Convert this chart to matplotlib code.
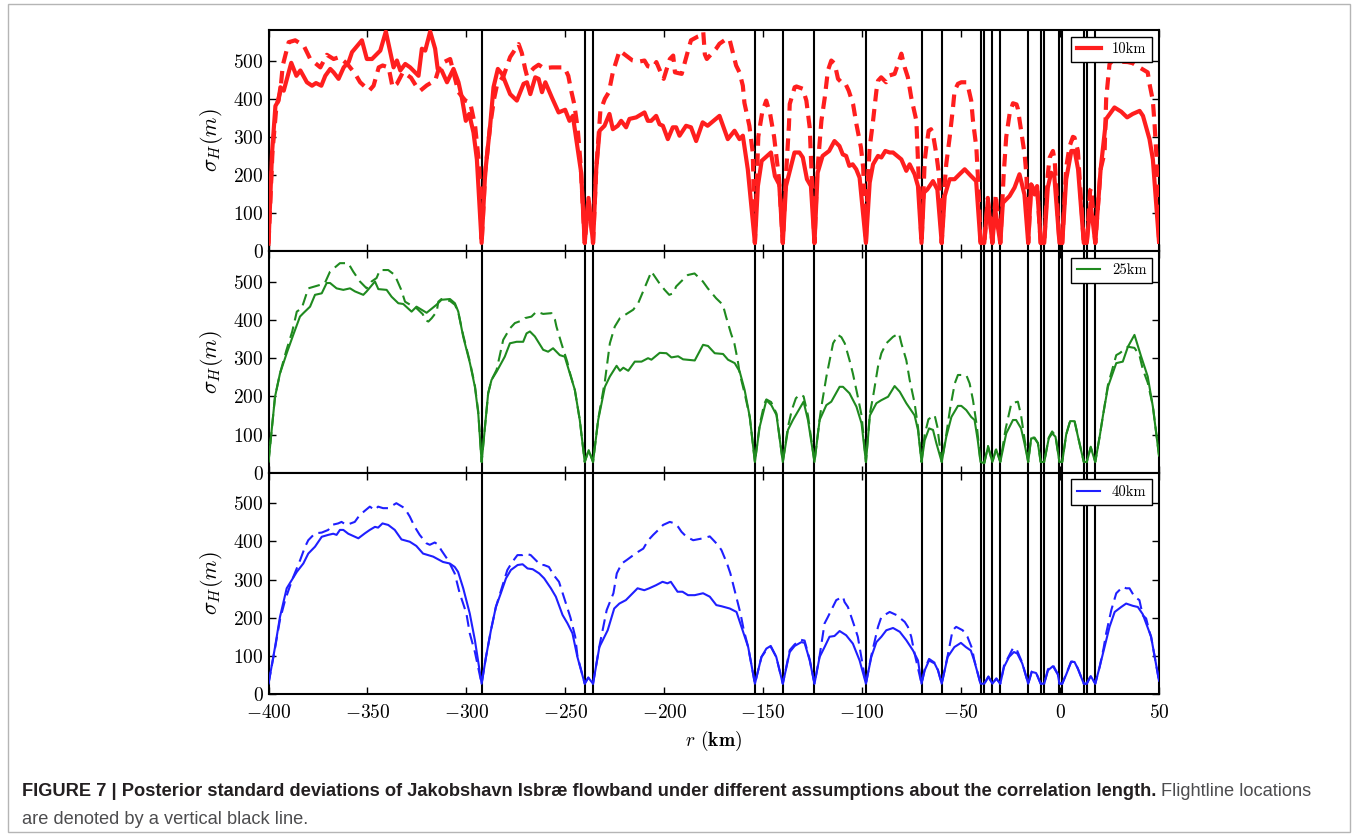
import numpy as np
import matplotlib
matplotlib.use("Agg")
import matplotlib.pyplot as plt
from matplotlib.patches import Rectangle

# flightline positions (km)
flightlines = [-292.3, -240.2, -236.0, -154.2, -140.1, -124.1, -98.1, -70.0, -59.8,
               -40.2, -38.3, -34.2, -30.2, -16.1, -9.8, -8.0, -0.3, 1.1, 12.0, 13.5, 17.8]

# (r in km, sigma_H in m)
red_solid = [
    (-400, 20), (-398.2, 259), (-396.5, 381), (-394.9, 395), (-394, 430), (-392.3, 421),
    (-388.5, 494), (-385.9, 460), (-383.9, 474), (-380.6, 443), (-378, 434), (-376, 441),
    (-373.3, 434), (-371.3, 460), (-368.8, 478), (-367.1, 469), (-364.6, 452), (-362, 482),
    (-359.5, 496), (-357.8, 522), (-352.8, 553), (-350.3, 504), (-347.7, 504), (-343.5, 526),
    (-340.7, 576), (-336.8, 482), (-335.1, 500), (-333.4, 474), (-330.9, 491), (-328.4, 482),
    (-324.2, 460), (-322.5, 531), (-320.8, 526), (-318.3, 576), (-315.8, 531), (-314.5, 478),
    (-312.5, 474), (-309.8, 443), (-306.5, 478), (-304, 443), (-302.3, 403), (-300.3, 342),
    (-298.6, 360), (-296.4, 311), (-294.7, 241), (-292.3, 22),
    (-290.5, 206), (-288, 329), (-286.3, 430), (-284.1, 478), (-282, 465), (-277.9, 412),
    (-274.5, 395), (-271.1, 439), (-269.4, 443), (-267.7, 412), (-265.2, 456), (-263.5, 452),
    (-261.8, 417), (-260.1, 443), (-256.8, 403), (-253.4, 364), (-250.1, 371), (-247.9, 342),
    (-246.2, 355), (-244.5, 294), (-242, 206), (-240.2, 22),
    (-238.3, 140), (-236, 22),
    (-234.4, 215), (-232.7, 316), (-230.2, 329), (-227.7, 360), (-226, 320), (-223.5, 329),
    (-221.8, 342), (-219.3, 325), (-217.6, 347), (-214.2, 351), (-210, 364), (-208.3, 342),
    (-206.6, 342), (-204.1, 355), (-202.4, 333), (-200.7, 329), (-198.2, 294), (-195.7, 325),
    (-194, 325), (-192.3, 303), (-189, 329), (-186.5, 325), (-183.9, 289), (-180.6, 338),
    (-178.1, 329), (-172.1, 355), (-167.9, 294), (-164.5, 316), (-162, 294), (-160.3, 303),
    (-157.8, 215), (-154.2, 22),
    (-152.7, 171), (-150.8, 237), (-146.1, 259), (-144.1, 197), (-141.9, 175), (-140.1, 22),
    (-138.5, 171), (-134.2, 259), (-131.7, 259), (-130, 246), (-127.9, 189), (-125.9, 171),
    (-124.1, 22),
    (-122.5, 206), (-120, 250), (-116.7, 263), (-114, 289), (-111.5, 276), (-109.8, 254),
    (-108.1, 250), (-106.5, 224), (-104.8, 228), (-103, 215), (-101.3, 193), (-98.1, 22),
    (-96.2, 180), (-94.5, 228), (-92, 250), (-90.3, 246), (-88.3, 263), (-86.1, 259),
    (-84.4, 259), (-80.2, 241), (-77.7, 211), (-76, 228), (-73.5, 202), (-71.8, 171), (-70, 22),
    (-68.8, 154), (-67.1, 162), (-64.2, 184), (-62, 162), (-59.8, 22),
    (-58.3, 145), (-55.8, 189), (-53.3, 189), (-50.8, 202), (-48.2, 215), (-44.9, 197),
    (-42.4, 184), (-40.2, 22), (-38.3, 22),
    (-36.5, 132), (-34.2, 22), (-32.8, 111), (-30.2, 22),
    (-28.9, 127), (-25.5, 145), (-23, 167), (-20.5, 202), (-18, 149), (-16.1, 22),
    (-14.6, 175), (-12.9, 149), (-11.6, 171), (-9.8, 22), (-8.0, 22),
    (-6.2, 167), (-4.5, 206), (-2.9, 197), (-0.3, 22), (1.1, 22),
    (3.1, 189), (5.7, 263), (7.4, 263), (9.1, 215), (12.0, 22), (13.5, 22),
    (15.4, 127), (17.8, 22),
    (20.5, 215), (23.3, 347), (27.5, 377), (30.9, 366), (33.9, 351), (36.7, 360),
    (40.2, 368), (41.9, 355), (45.2, 294), (46.9, 241), (50, 25),
]

red_dash = [
    (-400, 20), (-398, 260), (-396, 380), (-394, 420), (-392.8, 487), (-389.8, 548),
    (-386.5, 553), (-382.2, 539), (-378.9, 504), (-373.8, 482), (-370.5, 515), (-367.1, 504),
    (-364.2, 509), (-360, 490), (-356.2, 465), (-353.7, 443), (-349.1, 421), (-346.9, 434),
    (-344.3, 482), (-342.3, 487), (-339.3, 482), (-337.3, 430), (-335.1, 439), (-332, 470),
    (-328, 455), (-325, 430), (-323.3, 421), (-320, 435), (-317.4, 443), (-315.8, 447),
    (-313.2, 491), (-308.2, 504), (-304, 417), (-300.5, 395), (-298.1, 390), (-295.6, 329),
    (-293.5, 224), (-292.3, 22),
    (-290.5, 206), (-288, 329), (-286, 400), (-284.6, 434), (-281.2, 460), (-277.9, 509),
    (-273.6, 543), (-272, 520), (-270.3, 478), (-269.4, 460), (-266, 480), (-263.5, 489),
    (-261, 480), (-256.8, 482), (-250.5, 482), (-248.5, 460), (-247, 420), (-245.5, 386),
    (-243.8, 324), (-242.3, 230), (-240.2, 22),
    (-238.3, 140), (-236, 22),
    (-234.4, 215), (-232.3, 368), (-230, 400), (-228, 417), (-226, 469), (-222.6, 526),
    (-216, 500), (-213, 497), (-210, 500), (-208.3, 485), (-205.6, 482), (-204, 496),
    (-201.5, 465), (-200.3, 452), (-197.2, 504), (-195.5, 513), (-194.6, 469), (-191.2, 465),
    (-187.3, 539), (-186.5, 553), (-183, 563), (-181.4, 566), (-180.3, 575), (-179.5, 516),
    (-178.5, 504), (-173.8, 531), (-172.1, 544), (-169.6, 553), (-167.1, 557), (-165.4, 522),
    (-163.7, 487), (-162, 469), (-160.3, 434), (-159.5, 389), (-157, 329), (-155.3, 259),
    (-154.2, 22),
    (-152.5, 300), (-150.5, 365), (-148.5, 395), (-146.5, 360), (-144.5, 300), (-142, 190),
    (-140.1, 22),
    (-138.5, 200), (-137, 330), (-136.6, 386), (-134.1, 430), (-133.2, 432), (-130, 426),
    (-128.2, 395), (-126.5, 324), (-125.5, 200), (-124.1, 22),
    (-122.8, 200), (-120.6, 342), (-118.9, 403), (-117.3, 474), (-115.6, 500), (-113.9, 492),
    (-112.2, 452), (-110.5, 443), (-108.8, 443), (-106.8, 421), (-104.6, 386), (-102.9, 333),
    (-100.6, 272), (-99.5, 220), (-98.1, 22),
    (-97, 200), (-96.2, 272), (-94.5, 342), (-92.8, 421), (-92, 447), (-90.4, 456),
    (-87.9, 443), (-86.1, 461), (-83.6, 465), (-81.9, 491), (-80.2, 518), (-78.5, 482),
    (-76.9, 456), (-75.2, 403), (-72.6, 342), (-71.8, 237), (-70, 22),
    (-68.4, 237), (-67.6, 272), (-66.4, 316), (-65.2, 320), (-64.2, 307), (-62.5, 254),
    (-61.2, 202), (-59.8, 22),
    (-58.3, 176), (-57.5, 229), (-55.8, 298), (-54.1, 377), (-53.3, 421), (-51.6, 439),
    (-49.9, 443), (-47.4, 443), (-46.6, 434), (-44.9, 395), (-44.0, 342), (-42.3, 272),
    (-41.4, 184), (-40.2, 22), (-38.3, 22),
    (-36.5, 140), (-34.2, 22), (-32.5, 150), (-30.2, 22),
    (-28.5, 200), (-27.2, 300), (-25.5, 360), (-23.8, 388), (-22, 385), (-21.3, 373),
    (-20.4, 342), (-17.9, 254), (-17, 200), (-16.1, 22),
    (-14.6, 175), (-12.9, 160), (-11.6, 171), (-9.8, 22), (-8.0, 22),
    (-6.2, 200), (-5.3, 245), (-3.6, 263), (-2.7, 237), (-0.3, 22), (1.1, 22),
    (3.1, 220), (4.8, 275), (6.5, 300), (7.3, 298), (9, 264), (12, 22), (13.5, 22),
    (15.2, 160), (15.8, 165), (17.8, 22),
    (20.5, 215), (22.5, 259), (23.3, 400), (25, 491), (26.6, 500), (30, 497), (34.2, 496),
    (36.7, 493), (40.1, 482), (44.3, 469), (45.2, 439), (46.9, 395), (47.8, 330),
    (48.7, 250), (50, 30),
]

green_solid = [
    (-400, 28), (-396.7, 199), (-394.2, 260), (-390.8, 313), (-387.5, 361), (-384.1, 409),
    (-382.4, 418), (-379, 435), (-376.5, 466), (-373.1, 470), (-370.6, 497), (-368.9, 497),
    (-365.6, 483), (-362.2, 479), (-358.8, 483), (-356.3, 475), (-352.1, 466), (-350.4, 475),
    (-346.2, 501), (-344.5, 481), (-340.3, 479), (-337.8, 461), (-334.4, 444), (-331.9, 442),
    (-327.7, 422), (-325.2, 435), (-320.1, 419), (-315.1, 440), (-312.6, 453), (-308.3, 455),
    (-305.8, 444), (-304.1, 422), (-301.6, 356), (-298.2, 287), (-295.7, 225), (-294, 155),
    (-292.3, 28),
    (-289, 208), (-287.3, 243), (-284.7, 265), (-280.6, 304), (-278, 339), (-274.6, 343),
    (-271.3, 343), (-269.6, 365), (-267.9, 370), (-265.4, 357), (-261.2, 322), (-258.7, 317),
    (-256.2, 326), (-252.8, 308), (-250.3, 304), (-247.7, 260), (-245.2, 217), (-242.7, 138),
    (-240.2, 28),
    (-238.2, 59), (-236, 28),
    (-233.4, 138), (-230, 225), (-227.5, 252), (-224.1, 280), (-222.4, 267), (-220.7, 275),
    (-218.2, 267), (-214.9, 291), (-211.5, 291), (-208.2, 300), (-206.5, 296), (-202.3, 314),
    (-198.9, 313), (-196.4, 302), (-193, 305), (-190.5, 297), (-184.6, 294), (-180.4, 335),
    (-177.9, 332), (-174.5, 313), (-170.3, 311), (-167.8, 296), (-164.4, 287), (-161.9, 265),
    (-159.4, 217), (-156.8, 146), (-154.2, 28),
    (-151.8, 120), (-148.4, 190), (-145.9, 177), (-143.3, 151), (-140.1, 28),
    (-137.5, 112), (-135, 138), (-131.6, 168), (-129.6, 186), (-127.4, 138), (-124.1, 28),
    (-121.5, 138), (-118.1, 177), (-115.6, 186), (-111.4, 225), (-109.7, 225), (-106.4, 208),
    (-102.9, 173), (-100.3, 129), (-98.1, 28),
    (-96.1, 150), (-92.8, 182), (-90.3, 190), (-86.9, 199), (-83.6, 227), (-81, 212),
    (-77.7, 182), (-73.5, 150), (-71.8, 112), (-70, 28),
    (-68.4, 85), (-66.2, 116), (-64.2, 112), (-62.5, 77), (-59.8, 28),
    (-57.5, 94), (-54.9, 146), (-51.6, 175), (-49.9, 175), (-47.4, 164), (-44.9, 146),
    (-43.2, 138), (-41.6, 85), (-40.2, 28), (-38.3, 25),
    (-36.4, 68), (-34.2, 28), (-32.3, 61), (-30.2, 28),
    (-27.2, 103), (-23.8, 138), (-22.2, 138), (-19.7, 116), (-18, 77), (-16.1, 28),
    (-14.6, 90), (-12.9, 90), (-11.2, 77), (-9.8, 28), (-8.0, 28),
    (-5.7, 90), (-4, 103), (-2.3, 94), (-0.3, 28), (1.1, 28),
    (3.1, 100), (5.1, 135), (7.3, 135), (9.8, 77), (12, 28), (13.5, 28),
    (15.5, 66), (17.8, 28),
    (20, 94), (21.7, 150), (24.2, 225), (28.4, 287), (31.7, 291), (34.3, 330), (37.6, 361),
    (41, 304), (44.3, 252), (46.9, 173), (50, 45),
]

green_dash = [
    (-400, 28), (-396.7, 199), (-394.2, 260), (-391, 320), (-388, 370), (-385.7, 422),
    (-383.2, 431), (-379.9, 483), (-374, 492), (-371.5, 497), (-368.9, 527), (-363.9, 549),
    (-359.7, 549), (-357.2, 527), (-353.8, 501), (-350.4, 483), (-347.9, 501), (-345.4, 510),
    (-343.7, 531), (-339.5, 531), (-336.2, 518), (-333, 480), (-331, 448), (-328.4, 440),
    (-325, 430), (-322, 415), (-320.9, 400), (-319.2, 396), (-317.5, 405), (-315, 422),
    (-314.2, 448), (-312.6, 455), (-308.3, 450), (-305.8, 440), (-304.1, 420), (-301.6, 360),
    (-298.2, 290), (-295.7, 228), (-294, 160), (-292.3, 28),
    (-289, 208), (-287.3, 243), (-284.7, 270), (-281.4, 348), (-278, 378), (-275.5, 392),
    (-271.3, 400), (-270.4, 405), (-267.1, 409), (-264.6, 422), (-261.2, 416), (-257, 418),
    (-255.3, 402), (-254.5, 383), (-252, 339), (-249, 290), (-247.7, 262), (-245.2, 217),
    (-242.7, 138), (-240.2, 28),
    (-238.2, 59), (-236, 28),
    (-233.4, 140), (-230, 240), (-227.5, 339), (-225, 383), (-222.4, 405), (-215.7, 427),
    (-213.2, 444), (-206.5, 527), (-202.3, 495), (-199.8, 479), (-197.5, 466), (-195.5, 470),
    (-194, 488), (-191.5, 501), (-188.1, 518), (-184.7, 522), (-180.5, 501), (-178, 483),
    (-173.8, 457), (-170.4, 440), (-168.8, 409), (-166.3, 365), (-164.6, 339), (-162.9, 295),
    (-161.9, 260), (-159.4, 208), (-156.8, 146), (-154.2, 28),
    (-151.8, 125), (-149.5, 180), (-148.4, 192), (-146, 185), (-143.3, 155), (-140.1, 28),
    (-137.5, 120), (-135.5, 165), (-133.5, 195), (-131.4, 205), (-129.6, 200), (-127.4, 150),
    (-124.1, 28),
    (-121.5, 140), (-120.6, 173), (-118.1, 251), (-116.4, 295), (-114.7, 339), (-112.2, 361),
    (-110.5, 355), (-108.8, 339), (-106.4, 295), (-104.7, 260), (-102.2, 199), (-100.3, 150),
    (-98.1, 28),
    (-96.1, 155), (-94.5, 199), (-92, 278), (-90.3, 313), (-87.8, 339), (-84.4, 356),
    (-81.4, 365), (-80.2, 339), (-77.7, 295), (-76, 243), (-73.5, 182), (-71.8, 120), (-70, 28),
    (-68.4, 100), (-66.5, 140), (-63.4, 151), (-62, 120), (-59.8, 28),
    (-57.5, 100), (-55.5, 170), (-53.2, 234), (-51.6, 256), (-47.4, 256), (-45.7, 234),
    (-44, 190), (-42, 120), (-40.2, 28), (-38.3, 25),
    (-36.4, 70), (-34.2, 28), (-32.3, 63), (-30.2, 28),
    (-27.5, 115), (-24.6, 182), (-21.3, 186), (-19.7, 150), (-18, 90), (-16.1, 28),
    (-14.6, 92), (-12.9, 92), (-11.2, 78), (-9.8, 28), (-8.0, 28),
    (-5.7, 92), (-4, 108), (-2.3, 97), (-0.3, 28), (1.1, 28),
    (3.1, 100), (5.1, 136), (7.3, 136), (9.8, 78), (12, 28), (13.5, 28),
    (15.5, 68), (17.8, 28),
    (20, 95), (21.7, 150), (24.2, 230), (28.4, 308), (30.1, 313), (34.3, 330), (37.6, 327),
    (40.1, 308), (41.8, 271), (44.3, 236), (46.9, 175), (50, 45),
]

blue_solid = [
    (-400, 27), (-396.7, 123), (-394.2, 202), (-390.8, 277), (-388.3, 298), (-385.7, 320),
    (-382.4, 342), (-379.9, 368), (-376.5, 386), (-373.1, 412), (-369.8, 417), (-367.3, 420),
    (-365.6, 417), (-363.9, 430), (-362.2, 430), (-359.7, 420), (-354.6, 408), (-351.3, 421),
    (-348.8, 430), (-346.2, 438), (-344.6, 436), (-342.4, 447), (-339.5, 443), (-336.2, 430),
    (-332.8, 405), (-328.6, 399), (-325.3, 388), (-321.9, 368), (-316.8, 360), (-311.8, 346),
    (-308.4, 342), (-305.9, 333), (-304.2, 320), (-301.6, 277), (-298.3, 211), (-295.7, 141),
    (-292.3, 27),
    (-290.1, 97), (-287.6, 167), (-285.1, 228), (-282.6, 264), (-280, 303), (-277.5, 325),
    (-274.1, 338), (-271.6, 340), (-269.1, 329), (-266.5, 327), (-263.2, 316), (-260.7, 303),
    (-257.3, 277), (-254.8, 255), (-251.4, 207), (-248.9, 185), (-246.4, 159), (-243.9, 97),
    (-240.2, 27),
    (-238.4, 43), (-236, 27),
    (-232.8, 123), (-228.6, 167), (-225.3, 224), (-222.7, 237), (-219.4, 246), (-216, 264),
    (-213.5, 277), (-210.1, 272), (-207.6, 277), (-204.2, 285), (-200.9, 294), (-198.4, 290),
    (-196.7, 294), (-193.3, 268), (-190.8, 268), (-188, 259), (-184.6, 259), (-180.4, 264),
    (-177, 255), (-173.7, 233), (-171.1, 230), (-166.9, 224), (-163.5, 215), (-161, 176),
    (-157.6, 123), (-154.2, 27),
    (-150.9, 97), (-148.4, 119), (-146.2, 126), (-143.4, 97), (-140.1, 27),
    (-136.6, 110), (-134.1, 126), (-130.7, 136), (-129.1, 134), (-126.5, 88), (-124.1, 27),
    (-121.5, 97), (-119, 123), (-116.5, 150), (-114, 152), (-111.4, 165), (-108.1, 154),
    (-104.7, 132), (-101.3, 88), (-98.1, 27),
    (-95.4, 97), (-92.8, 136), (-90.3, 150), (-87.8, 167), (-84.4, 173), (-81, 163),
    (-77.7, 141), (-74.3, 114), (-71.8, 88), (-70, 27),
    (-68.4, 62), (-66.2, 88), (-63.4, 80), (-61.7, 62), (-59.8, 27),
    (-56.8, 97), (-53.4, 123), (-50.1, 134), (-47.6, 123), (-45.1, 114), (-43.4, 88),
    (-40.2, 27), (-38.3, 27),
    (-36.2, 45), (-34.2, 27), (-32.2, 40), (-30.2, 27),
    (-28.3, 71), (-25.8, 97), (-23.3, 110), (-21.6, 106), (-19.1, 80), (-16.1, 27),
    (-14.3, 58), (-12.1, 55), (-9.8, 27), (-8.0, 27),
    (-6.1, 62), (-3.6, 73), (-1.1, 51), (-0.3, 27), (1.1, 27),
    (3.1, 51), (5.6, 84), (7.3, 84), (9, 66), (12, 27), (13.5, 27),
    (15.5, 47), (17.8, 27),
    (20, 71), (22.5, 123), (25, 176), (27.6, 215), (30.9, 228), (33.4, 237), (36.8, 231),
    (39.3, 228), (41.8, 209), (46, 150), (50, 35),
]

blue_dash = [
    (-400, 27), (-396.7, 120), (-394.2, 195), (-391.6, 246), (-388, 300), (-384, 351),
    (-381.5, 386), (-379.9, 403), (-376.5, 421), (-373.1, 423), (-369.8, 430), (-368.1, 443),
    (-364.8, 447), (-363.1, 451), (-360.6, 443), (-356.4, 451), (-353.9, 469), (-348.8, 491),
    (-346.3, 482), (-344.6, 491), (-342.1, 487), (-339.6, 487), (-335.4, 500), (-331.2, 487),
    (-328.6, 465), (-326.1, 438), (-323.6, 417), (-320.2, 395), (-318.5, 391), (-316, 397),
    (-314.4, 392), (-312.7, 377), (-309.3, 351), (-305.9, 316), (-305.1, 299), (-303.4, 264),
    (-301.7, 238), (-300, 211), (-298.3, 159), (-295.7, 110), (-292.3, 27),
    (-290.1, 97), (-287.6, 167), (-285.1, 228), (-282.6, 270), (-279.3, 325), (-276.8, 346),
    (-274.2, 364), (-271.7, 364), (-270.1, 368), (-267.5, 364), (-265, 351), (-262.5, 338),
    (-260.8, 338), (-258.3, 333), (-255.8, 311), (-253.2, 294), (-251.6, 268), (-249.1, 228),
    (-247.4, 200), (-245, 150), (-243.9, 100), (-240.2, 27),
    (-238.4, 43), (-236, 27),
    (-232.8, 125), (-229.1, 220), (-225.7, 264), (-224, 316), (-221.5, 342), (-219, 351),
    (-215.6, 364), (-213.1, 373), (-210.6, 381), (-208.1, 403), (-205.6, 417), (-202.2, 434),
    (-200.6, 443), (-197.2, 451), (-194.7, 447), (-193, 438), (-191.3, 425), (-188.8, 412),
    (-185.4, 403), (-180.4, 408), (-177, 413), (-172.8, 390), (-171.1, 377), (-168.3, 342),
    (-166.6, 316), (-164.9, 281), (-163.2, 246), (-161.5, 211), (-159.8, 167), (-157.6, 123),
    (-154.2, 27),
    (-150.9, 97), (-148.4, 115), (-146.2, 124), (-143.4, 97), (-140.1, 27),
    (-136.6, 115), (-134.1, 130), (-131, 142), (-129.1, 140), (-126.5, 90), (-124.1, 27),
    (-121.5, 100), (-119, 185), (-117.3, 202), (-115.6, 220), (-113.1, 246), (-109.7, 255),
    (-108.9, 241), (-107.2, 228), (-105.5, 202), (-103.8, 176), (-102.2, 150), (-101.3, 123),
    (-98.1, 27),
    (-95.4, 100), (-92, 176), (-90.3, 202), (-86.1, 215), (-82.7, 207), (-78.5, 189),
    (-76.9, 176), (-75.2, 150), (-73.5, 106), (-70, 27),
    (-68.4, 65), (-66.2, 92), (-63.4, 82), (-61.7, 63), (-59.8, 27),
    (-56.8, 100), (-54.3, 167), (-52.5, 176), (-49.2, 167), (-46.8, 150), (-44.5, 120),
    (-43.4, 90), (-40.2, 27), (-38.3, 27),
    (-36.2, 46), (-34.2, 27), (-32.2, 41), (-30.2, 27),
    (-28.3, 75), (-25.8, 100), (-23.8, 120), (-22.2, 120), (-19.1, 82), (-16.1, 27),
    (-14.3, 59), (-12.1, 56), (-9.8, 27), (-8.0, 27),
    (-6.1, 65), (-3.6, 76), (-1.1, 52), (-0.3, 27), (1.1, 27),
    (3.1, 52), (5.6, 85), (7.3, 85), (9, 67), (12, 27), (13.5, 27),
    (15.5, 48), (17.8, 27),
    (20, 71), (22, 120), (23.3, 159), (25.9, 220), (28.4, 264), (31.7, 281), (33.4, 277),
    (35.1, 277), (37.6, 255), (40.1, 246), (41.8, 206), (43.5, 198), (45.2, 163), (46, 150),
    (50, 35),
]

labels = ["10km", "25km", "40km"]
colors = ["#ff1e1e", "#1f8a1f", "#1f1fff"]
widths = [3.0, 1.5, 1.5]
dashes = [(9.0, 5.5), (8.5, 4.5), (8.5, 4.5)]
xticks = [-400, -350, -300, -250, -200, -150, -100, -50, 0, 50]
yticks = [0, 100, 200, 300, 400, 500]

caption_bold = ("FIGURE 7 | Posterior standard deviations of Jakobshavn Isbr\u00e6 flowband "
                "under different assumptions about the correlation length.")
caption_rest1 = "Flightline locations"
caption_rest2 = "are denoted by a vertical black line."

plt.rcParams["font.family"] = "serif"
plt.rcParams["font.serif"] = ["cmr10", "DejaVu Serif"]
plt.rcParams["mathtext.fontset"] = "cm"
plt.rcParams["axes.formatter.use_mathtext"] = True
plt.rcParams["axes.linewidth"] = 1.5
plt.rcParams["lines.scale_dashes"] = False

W, H = 1358, 835
fig, axes = plt.subplots(3, 1, figsize=(W / 100, H / 100), dpi=100, sharex=True, sharey=True)
fig.subplots_adjust(left=268.5 / W, right=1159 / W, top=1 - 30 / H, bottom=1 - 694 / H, hspace=0)

pairs = [(red_solid, red_dash), (green_solid, green_dash), (blue_solid, blue_dash)]
for ax, (solid, dash), lab, c, lw, ds in zip(axes, pairs, labels, colors, widths, dashes):
    for fl in flightlines:
        ax.axvline(fl, color="black", lw=1.5, zorder=1)
    xs, ys = np.array(solid).T
    xd, yd = np.array(dash).T
    ax.plot(xs, ys, color=c, lw=lw, label=lab, zorder=3)
    ax.plot(xd, yd, color=c, lw=lw, dashes=ds, zorder=3)
    ax.set_xlim(-400, 50)
    ax.set_ylim(0, 580)
    ax.set_yticks(yticks)
    ax.set_xticks(xticks)
    ax.tick_params(direction="in", top=True, right=True, length=5, width=1, labelsize=14)
    ax.tick_params(axis="x", pad=7)
    ax.set_ylabel(r"$\sigma_H(m)$", fontsize=16, labelpad=6)
    leg = ax.legend(loc="upper right", fontsize=10.5, fancybox=False, framealpha=1,
                    edgecolor="black", handlelength=1.6, borderaxespad=0.45)
    leg.get_frame().set_linewidth(1.0)

axes[2].set_xlabel(r"$r$ $\mathbf{(km)}$", fontsize=14, labelpad=5)

# caption box
fig.patches.append(Rectangle((8 / W, 1 - 832 / H), 1342 / W, 828 / H, transform=fig.transFigure,
                             fill=False, edgecolor="#b5b5b5", lw=1.0))
cap_font = ["Liberation Sans Narrow", "Liberation Sans", "DejaVu Sans"]
t1 = fig.text(22 / W, 1 - 792 / H, caption_bold, fontsize=12, weight="bold", va="center",
              family=cap_font, color="#231f20")
fig.canvas.draw()
rend = fig.canvas.get_renderer()
w = t1.get_window_extent(renderer=rend).width
fs = 12 * 1126 / w
t1.set_fontsize(fs)
fig.canvas.draw()
bb = t1.get_window_extent(renderer=rend)
fig.text((bb.x1 + 5) / W, 1 - 792 / H, caption_rest1, fontsize=fs, va="center",
         family=cap_font, color="#4d4d4f")
fig.text(22 / W, 1 - 819 / H, caption_rest2, fontsize=fs, va="center",
         family=cap_font, color="#4d4d4f")

fig.savefig("out.png", dpi=100)
